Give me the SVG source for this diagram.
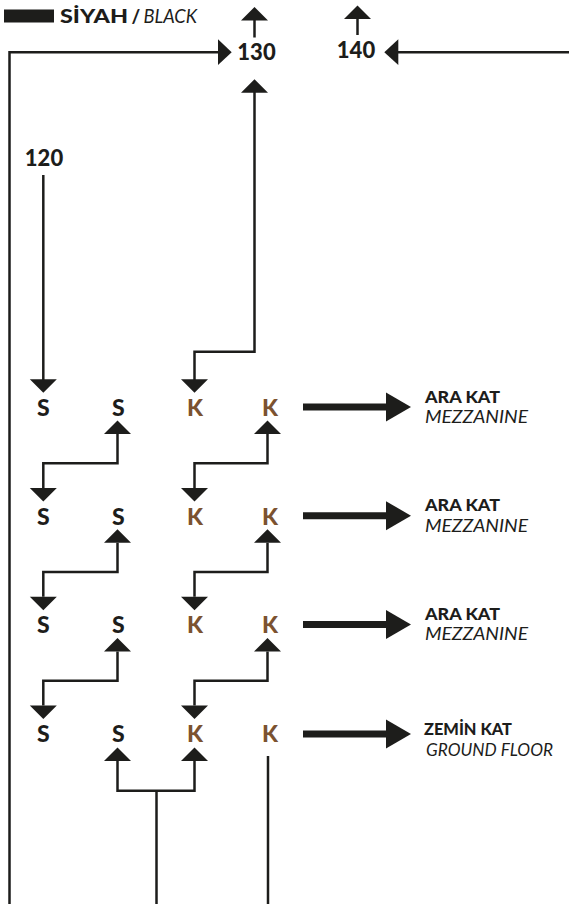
<svg xmlns="http://www.w3.org/2000/svg" width="569" height="904" viewBox="0 0 569 904">
<defs>
<style>
.ln{fill:none;stroke:#1d1d1b;stroke-width:2.5}
.ah{fill:#1d1d1b}
.big{fill:none;stroke:#1d1d1b;stroke-width:7}
.s{font-family:Lato,"Noto Sans",sans-serif;font-weight:900;font-size:23px;fill:#1d1d1b;text-anchor:middle}
.k{font-family:Lato,"Noto Sans",sans-serif;font-weight:900;font-size:23px;fill:#7b5230;text-anchor:middle}
.num{font-family:Lato,"Noto Sans",sans-serif;font-weight:900;font-size:22px;fill:#1d1d1b;text-anchor:middle}
.lb{font-family:Lato,"Noto Sans",sans-serif;font-weight:900;font-size:17.5px;fill:#1d1d1b}
.li{font-family:Lato,"Noto Sans",sans-serif;font-weight:400;font-style:italic;font-size:17.5px;fill:#1d1d1b}
</style>
<path id="dn" d="M-13.5,0 L13.5,0 L0,13.5 Z"/>
<path id="up" d="M-13.5,0 L13.5,0 L0,-13.5 Z"/>
<path id="bigar" d="M0,-14.5 L25,0 L0,14.5 Z"/>
</defs>

<g id="legend">
<rect x="4" y="9.5" width="50" height="13" fill="#1d1d1b"/>
<text x="60" y="22.7" class="lb" style="font-size:18.5px" textLength="68" lengthAdjust="spacingAndGlyphs">SİYAH</text>
<text x="131.5" y="22.7" class="lb" style="font-size:18.5px">/</text>
<text x="143.5" y="22.7" class="li" style="font-size:18.5px" textLength="53.5" lengthAdjust="spacingAndGlyphs">BLACK</text>
</g>

<g id="connectors">
<path class="ln" d="M9.5,904 V52.2 H219"/>
<path class="ah" d="M218,39.3 L231.7,52.2 L218,65 Z"/>
<path class="ln" d="M569,52.2 H398"/>
<path class="ah" d="M398.3,39.3 L384.3,52.2 L398.3,65 Z"/>
<path class="ln" d="M254.5,37.5 V20"/>
<use href="#up" x="254.5" y="20.5" class="ah"/>
<path class="ln" d="M357.5,35 V18"/>
<use href="#up" x="357.5" y="19" class="ah"/>
<path class="ln" d="M194.5,380 V351.7 H254.5 V92"/>
<use href="#up" x="254.5" y="92.7" class="ah"/>
<use href="#dn" x="194.5" y="379.3" class="ah"/>
<path class="ln" d="M43.3,175 V380"/>
<use href="#dn" x="43.3" y="379.3" class="ah"/>

<g id="c12">
<path class="ln" d="M117.5,434 V463.3 H43.3 V488"/>
<use href="#up" x="117.5" y="434" class="ah"/>
<use href="#dn" x="43.3" y="488" class="ah"/>
<path class="ln" d="M267.5,434 V463.3 H194.5 V488"/>
<use href="#up" x="267.5" y="434" class="ah"/>
<use href="#dn" x="194.5" y="488" class="ah"/>
</g>
<g id="c23">
<path class="ln" d="M117.5,542.7 V572 H43.3 V596.7"/>
<use href="#up" x="117.5" y="542.7" class="ah"/>
<use href="#dn" x="43.3" y="596.7" class="ah"/>
<path class="ln" d="M267.5,542.7 V572 H194.5 V596.7"/>
<use href="#up" x="267.5" y="542.7" class="ah"/>
<use href="#dn" x="194.5" y="596.7" class="ah"/>
</g>
<g id="c34">
<path class="ln" d="M117.5,651.4 V680.7 H43.3 V705.4"/>
<use href="#up" x="117.5" y="651.4" class="ah"/>
<use href="#dn" x="43.3" y="705.4" class="ah"/>
<path class="ln" d="M267.5,651.4 V680.7 H194.5 V705.4"/>
<use href="#up" x="267.5" y="651.4" class="ah"/>
<use href="#dn" x="194.5" y="705.4" class="ah"/>
</g>
<path class="ln" d="M117.5,760 V790.7 H194.5 V760"/>
<path class="ln" d="M156.5,790.7 V904"/>
<use href="#up" x="117.5" y="761" class="ah"/>
<use href="#up" x="194.5" y="761" class="ah"/>
<path class="ln" d="M268,756 V904"/>

<path class="big" d="M303,407 H387"/>
<use href="#bigar" x="386" y="407" class="ah"/>
<path class="big" d="M303,515.7 H387"/>
<use href="#bigar" x="386" y="515.7" class="ah"/>
<path class="big" d="M303,624.4 H387"/>
<use href="#bigar" x="386" y="624.4" class="ah"/>
<path class="big" d="M303,734 H387"/>
<use href="#bigar" x="386" y="734" class="ah"/>
</g>

<g id="n120"><text x="44" y="166" class="num">120</text></g>
<g id="n130"><text x="256.5" y="59.5" class="num">130</text></g>
<g id="n140"><text x="356" y="58" class="num">140</text></g>

<g id="row1">
<text x="43.4" y="416" class="s">S</text>
<text x="118.4" y="416" class="s">S</text>
<text x="195" y="416" class="k">K</text>
<text x="270" y="416" class="k">K</text>
</g>
<g id="row2">
<text x="43.4" y="524.7" class="s">S</text>
<text x="118.4" y="524.7" class="s">S</text>
<text x="195" y="524.7" class="k">K</text>
<text x="270" y="524.7" class="k">K</text>
</g>
<g id="row3">
<text x="43.4" y="633.4" class="s">S</text>
<text x="118.4" y="633.4" class="s">S</text>
<text x="195" y="633.4" class="k">K</text>
<text x="270" y="633.4" class="k">K</text>
</g>
<g id="row4">
<text x="43.4" y="742.1" class="s">S</text>
<text x="118.4" y="742.1" class="s">S</text>
<text x="195" y="742.1" class="k">K</text>
<text x="270" y="742.1" class="k">K</text>
</g>

<g id="label1"><text x="425" y="402.5" class="lb" textLength="75" lengthAdjust="spacingAndGlyphs">ARA KAT</text><text x="425" y="423" class="li" textLength="103" lengthAdjust="spacingAndGlyphs">MEZZANINE</text></g>
<g id="label2"><text x="425" y="511.2" class="lb" textLength="75" lengthAdjust="spacingAndGlyphs">ARA KAT</text><text x="425" y="531.7" class="li" textLength="103" lengthAdjust="spacingAndGlyphs">MEZZANINE</text></g>
<g id="label3"><text x="425" y="619.9" class="lb" textLength="75" lengthAdjust="spacingAndGlyphs">ARA KAT</text><text x="425" y="640.4" class="li" textLength="103" lengthAdjust="spacingAndGlyphs">MEZZANINE</text></g>
<g id="label4"><text x="424" y="735.3" class="lb" textLength="88" lengthAdjust="spacingAndGlyphs">ZEMİN KAT</text><text x="426" y="755.5" class="li" textLength="127" lengthAdjust="spacingAndGlyphs">GROUND FLOOR</text></g>
</svg>
